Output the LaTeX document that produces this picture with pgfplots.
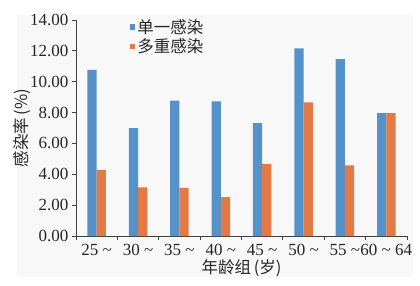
\documentclass[border=0pt]{standalone}
\usepackage{fontspec}
\setmainfont{Liberation Serif}
\newfontfamily\cjk{Noto Sans CJK SC}
\usepackage{pgfplots}
\pgfplotsset{compat=1.18}
\definecolor{cblue}{RGB}{85,146,201}
\definecolor{corange}{RGB}{226,122,69}
\definecolor{bgc}{RGB}{248,248,248}
\newcommand{\tl}{\ \textasciitilde}
\begin{document}
\begin{tikzpicture}[x=1pt,y=1pt]
\useasboundingbox (0,0) rectangle (420,285);
\fill[bgc] (17,8) rectangle (413,270);
\begin{axis}[
  at={(76pt,49pt)}, anchor=south west,
  scale only axis, width=331pt, height=216pt,
  ymin=0, ymax=14, ytick={0,2,...,14},
  xmin=-0.5, xmax=7.5,
  xtick={0,...,7},
  xticklabels={25\tl,30\tl,35\tl,40\tl,45\tl,50\tl,55\tl,60\tl\ 64},
  minor xtick={-0.5,0.5,...,7.5},
  major x tick style={draw=none},
  minor tick length=4pt, major tick length=4pt,
  tick align=outside,
  axis x line*=bottom, axis y line*=left,
  axis line style={black!75, line width=0.8pt},
  tick style={black!75, line width=0.8pt},
  y axis line style={-}, x axis line style={-},
  yticklabel style={/pgf/number format/.cd, fixed, fixed zerofill, precision=2},
  /pgf/number format/assume math mode=true,
  ticklabel style={font=\fontsize{17}{17}\selectfont, text=black!85},
  xticklabel style={yshift=-1pt},
  ybar=0pt, bar width=9.3pt,
  ylabel={\cjk 感染率\,(\%)},
  ylabel style={font=\fontsize{16.5}{16.5}\selectfont, text=black!85, at={(axis description cs:-0.163,0.5)}, anchor=center},
  xlabel={\cjk 年龄组\,(岁)},
  xlabel style={font=\fontsize{16.5}{16.5}\selectfont, text=black!85, at={(axis description cs:0.5,-0.148)}, anchor=center},
  legend style={at={(axis cs:0.72,14.3)}, anchor=north west, draw=none, fill=none,
    font=\cjk\fontsize{16.5}{16.5}\selectfont, text=black!85, row sep=0pt,
    /tikz/every even column/.append style={column sep=2pt}},
  legend image code/.code={\fill[#1] (0pt,-2.8pt) rectangle (5.6pt,2.8pt);},
  clip=false,
]
\addplot[fill=cblue, draw=none] coordinates {(0,10.76) (1,7.00) (2,8.77) (3,8.73) (4,7.32) (5,12.16) (6,11.46) (7,7.97)};
\addplot[fill=corange, draw=none] coordinates {(0,4.28) (1,3.16) (2,3.12) (3,2.52) (4,4.67) (5,8.66) (6,4.58) (7,7.97)};
\legend{单一感染,多重感染}
\end{axis}
\end{tikzpicture}
\end{document}
